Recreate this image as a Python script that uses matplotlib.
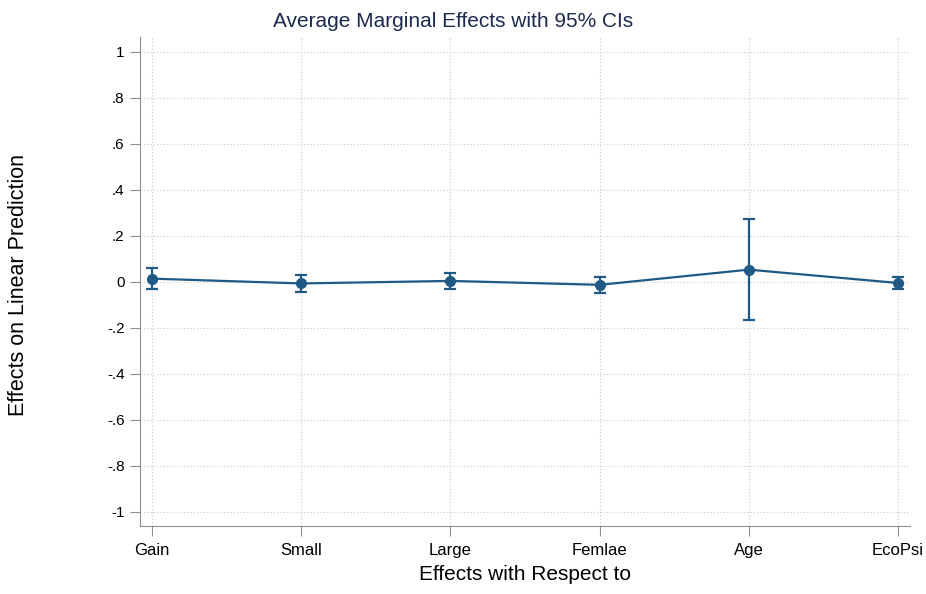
import matplotlib
matplotlib.use('Agg')
import numpy as np
import matplotlib.pyplot as plt

# Datos (efectos marginales medios e IC 95%)
categorias = ['Gain', 'Small', 'Large', 'Femlae', 'Age', 'EcoPsi']
efectos = [0.014, -0.007, 0.004, -0.013, 0.053, -0.005]
ic_inf = [-0.031, -0.044, -0.031, -0.049, -0.165, -0.030]
ic_sup = [0.059, 0.029, 0.039, 0.023, 0.273, 0.019]
yticks = [1, 0.8, 0.6, 0.4, 0.2, 0, -0.2, -0.4, -0.6, -0.8, -1]
yticklabels = ['1', '.8', '.6', '.4', '.2', '0', '-.2', '-.4', '-.6', '-.8', '-1']

plt.rcParams['font.family'] = ['Liberation Sans', 'DejaVu Sans']

color = '#1f5a87'
x = np.arange(len(categorias))
err = [np.array(efectos) - np.array(ic_inf), np.array(ic_sup) - np.array(efectos)]

fig = plt.figure(figsize=(9.26, 5.94), dpi=100)
# eje: izquierda 140 px, derecha 910 px, arriba 37 px, abajo 526 px
ax = fig.add_axes([0.1512, 0.1145, 0.8315, 0.8232])

ax.errorbar(x, efectos, yerr=err, color=color, lw=1.6, marker='o', ms=7,
            capsize=4, capthick=1.6, elinewidth=1.6, zorder=3)

ax.set_xlim(-0.08, 5.08)
ax.set_ylim(-1.061, 1.064)
ax.set_yticks(yticks)
ax.set_yticklabels(yticklabels)
ax.set_xticks(x)
ax.set_xticklabels(categorias)

ax.grid(True, linestyle=(0, (1, 2)), color='#c8c8c8', lw=0.8, zorder=0)
for s in ['top', 'right']:
    ax.spines[s].set_visible(False)
ax.spines['left'].set_color('#909090')
ax.spines['bottom'].set_color('#909090')
ax.tick_params(axis='both', colors='#909090', length=7, width=0.8,
               labelcolor='black')
ax.tick_params(axis='y', pad=4, labelsize=11)
ax.tick_params(axis='x', pad=5, labelsize=12)

ax.set_xlabel('Effects with Respect to', fontsize=15, labelpad=5)
fig.text(0.020, 0.52, 'Effects on Linear Prediction', rotation=90, fontsize=15.5,
         ha='center', va='center')
fig.text(0.489, 0.964, 'Average Marginal Effects with 95% CIs', fontsize=15,
         color='#1c2a50', ha='center', va='center')

fig.savefig('out.png', dpi=100)
